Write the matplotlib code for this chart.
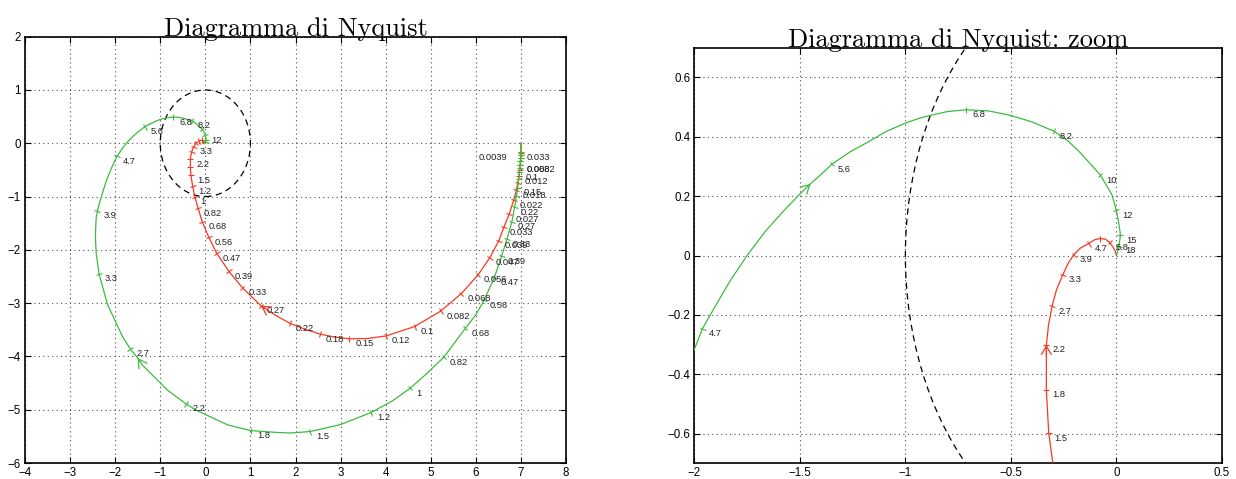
import numpy as np
import matplotlib
matplotlib.use("Agg")
import matplotlib.pyplot as plt
from matplotlib.markers import MarkerStyle
from matplotlib.transforms import Affine2D
from matplotlib.patches import Circle
from matplotlib.ticker import FuncFormatter, FixedLocator

# ---------------- data ----------------
# red curve: frequency ticks and their positions
red_freq = [0.0039, 0.0047, 0.0056, 0.0068, 0.0082, 0.01, 0.012, 0.015, 0.018, 0.022,
            0.027, 0.033, 0.039, 0.047, 0.056, 0.068, 0.082, 0.1, 0.12, 0.15,
            0.18, 0.22, 0.27, 0.33, 0.39, 0.47, 0.56, 0.68, 0.82, 1.0,
            1.2, 1.5, 1.8, 2.2, 2.7, 3.3, 3.9, 4.7, 5.6, 6.8]
red_re = [7.0, 7.0, 6.995, 6.99, 6.985, 6.975, 6.96, 6.93, 6.90, 6.84,
          6.74, 6.62, 6.51, 6.31, 6.05, 5.68, 5.22, 4.64, 4.01, 3.19,
          2.54, 1.88, 1.235, 0.82, 0.52, 0.25, 0.075, -0.07, -0.16, -0.235,
          -0.28, -0.321, -0.332, -0.332, -0.305, -0.254, -0.203, -0.132, -0.078, -0.032]
red_im = [-0.18, -0.22, -0.27, -0.33, -0.40, -0.50, -0.62, -0.75, -0.88, -1.07,
          -1.33, -1.58, -1.83, -2.15, -2.47, -2.82, -3.15, -3.44, -3.615, -3.67,
          -3.58, -3.38, -3.05, -2.71, -2.40, -2.06, -1.76, -1.47, -1.22, -1.0,
          -0.81, -0.598, -0.453, -0.301, -0.171, -0.065, 0.002, 0.040, 0.057, 0.044]
# extra (unlabelled) points of the red curve, keyed by approximate frequency
red_xf = [0.0, 0.135, 0.165, 0.2, 0.245, 2.45, 3.0, 3.6, 4.3, 5.1, 6.2, 8.0, 10.0, 100.0]
red_xr = [7.0, 3.58, 2.86, 2.21, 1.55, -0.322, -0.284, -0.231, -0.171, -0.103, -0.052, -0.016, -0.005, 0.0]
red_xi = [0.0, -3.665, -3.635, -3.49, -3.225, -0.235, -0.115, -0.029, 0.025, 0.053, 0.055, 0.028, 0.013, 0.0]

# green curve
green_freq = [0.033, 0.039, 0.047, 0.056, 0.068, 0.082, 0.1, 0.12, 0.15, 0.18,
              0.22, 0.27, 0.33, 0.39, 0.47, 0.56, 0.68, 0.82, 1.0, 1.2,
              1.5, 1.8, 2.2, 2.7, 3.3, 3.9, 4.7, 5.6, 6.8, 8.2,
              10.0, 12.0, 15.0, 18.0]
green_re = [7.0, 7.0, 6.995, 6.99, 6.985, 6.975, 6.965, 6.95, 6.93, 6.90,
            6.86, 6.80, 6.69, 6.57, 6.41, 6.18, 5.77, 5.29, 4.545, 3.674,
            2.322, 1.013, -0.428, -1.670, -2.357, -2.394, -1.961, -1.347, -0.711, -0.297,
            -0.076, -0.001, 0.019, 0.012]
green_im = [-0.17, -0.22, -0.27, -0.33, -0.40, -0.47, -0.54, -0.67, -0.83, -0.99,
            -1.20, -1.47, -1.80, -2.12, -2.52, -2.95, -3.47, -4.015, -4.597, -5.054,
            -5.41, -5.392, -4.891, -3.853, -2.452, -1.27, -0.246, 0.308, 0.491, 0.419,
            0.271, 0.153, 0.069, 0.033]
green_xf = [0.0, 0.62, 0.9, 1.1, 1.35, 1.6, 1.7, 1.95, 2.1, 2.35, 2.5, 2.6, 2.85, 3.05,
            3.45, 3.6, 3.75, 4.05, 4.2, 4.4, 4.85, 4.95, 5.05, 5.15, 5.25, 5.35, 5.4, 5.5,
            5.7, 5.85, 5.95, 6.05, 6.2, 6.35, 6.55, 7.2, 7.6, 7.9, 8.6, 9.0, 11.0, 13.5,
            21.0, 100.0]
green_xr = [7.0, 6.0, 4.92, 4.15, 3.0, 1.88, 1.574, 0.504, -0.203, -0.842, -1.393, -1.50,
            -1.840, -2.169, -2.422, -2.439, -2.422, -2.334, -2.198, -2.082, -1.90, -1.83,
            -1.75, -1.665, -1.58, -1.50, -1.45, -1.40, -1.26, -1.17, -1.09, -1.0, -0.94,
            -0.882, -0.80, -0.605, -0.502, -0.40, -0.235, -0.179, -0.021, 0.011, 0.006, 0.0]
green_xi = [0.0, -3.22, -4.315, -4.835, -5.279, -5.437, -5.426, -5.288, -5.009, -4.631,
            -4.164, -4.03, -3.624, -3.026, -2.062, -1.732, -1.402, -1.081, -0.706, -0.465,
            -0.17, -0.085, 0.0, 0.08, 0.148, 0.207, 0.241, 0.273, 0.350, 0.385, 0.418,
            0.446, 0.461, 0.472, 0.485, 0.487, 0.472, 0.450, 0.389, 0.352, 0.204, 0.109,
            0.015, 0.0]

# labelled frequencies in each panel
red_labels_main = [0.0039, 0.0082, 0.012, 0.018, 0.022, 0.027, 0.033, 0.039, 0.047, 0.056,
                   0.068, 0.082, 0.1, 0.12, 0.15, 0.18, 0.22, 0.27, 0.33, 0.39, 0.47,
                   0.56, 0.68, 0.82, 1.0, 1.2, 1.5, 2.2, 3.3]
green_labels_main = [0.033, 0.068, 0.1, 0.15, 0.22, 0.27, 0.33, 0.39, 0.47, 0.56, 0.68,
                     0.82, 1.0, 1.2, 1.5, 1.8, 2.2, 2.7, 3.3, 3.9, 4.7, 5.6, 6.8, 8.2, 12.0]
red_labels_zoom = [1.5, 1.8, 2.2, 2.7, 3.3, 3.9, 4.7, 6.8]
green_labels_zoom = [4.7, 5.6, 6.8, 8.2, 10.0, 12.0, 15.0, 18.0]

# arrow positions (frequency of arrow tip) per panel
red_arrow_main, green_arrow_main = 0.27, 2.6
red_arrow_zoom, green_arrow_zoom = 2.2, 5.4

titles = ["Diagramma di Nyquist", "Diagramma di Nyquist: zoom"]

RED = "#f23a22"
GREEN = "#3dbb3d"
LABEL_COLOR = "#222222"


def merge(f, r, i, xf, xr, xi):
    F = np.array(list(f) + list(xf), float)
    R = np.array(list(r) + list(xr), float)
    I = np.array(list(i) + list(xi), float)
    o = np.argsort(F, kind="stable")
    return F[o], R[o], I[o]


red_path = merge(red_freq, red_re, red_im, red_xf, red_xr, red_xi)
green_path = merge(green_freq, green_re, green_im, green_xf, green_xr, green_xi)

fig = plt.figure(figsize=(12.36, 4.79), dpi=100)
ax1 = fig.add_axes([25 / 1236, 16 / 479, 541 / 1236, 426.3 / 479])
ax2 = fig.add_axes([694.3 / 1236, 15.7 / 479, 527.7 / 1236, 415.6 / 479])

fmt = FuncFormatter(lambda v, p: ("%g" % v).replace("-", "\u2212"))


def setup(ax, xlim, ylim, xt, yt, title):
    ax.set_xlim(*xlim)
    ax.set_ylim(*ylim)
    ax.xaxis.set_major_locator(FixedLocator(xt))
    ax.yaxis.set_major_locator(FixedLocator(yt))
    ax.xaxis.set_major_formatter(fmt)
    ax.yaxis.set_major_formatter(fmt)
    ax.tick_params(direction="in", top=True, right=True, length=4, width=0.8,
                   labelsize=8.3, pad=3)
    for lab in ax.get_xticklabels() + ax.get_yticklabels():
        lab.set_fontfamily("Liberation Sans")
    for s in ax.spines.values():
        s.set_linewidth(1.2)
    ax.grid(True, linestyle=(0, (1, 3)), color="0.3", linewidth=0.8)
    ax.set_axisbelow(True)
    ax.set_title(title, fontfamily="cmr10", fontsize=19, pad=0.5)
    ax.add_patch(Circle((0, 0), 1.0, fill=False, edgecolor="black",
                        linestyle=(0, (5, 3.5)), linewidth=0.9, zorder=2))


def draw_curve(ax, path, freqs, color, labels, arrow_f, special=None):
    F, R, I = path
    ax.plot(R, I, color=color, lw=0.9, zorder=3)
    disp = ax.transData.transform(np.column_stack([R, I]))
    for f in freqs:
        k = int(np.argmin(np.abs(F - f)))
        a = disp[max(k - 1, 0)]
        b = disp[min(k + 1, len(F) - 1)]
        ang = np.degrees(np.arctan2(b[1] - a[1], b[0] - a[0]))
        ms = MarkerStyle("|", transform=Affine2D().rotate_deg(ang))
        ax.plot([R[k]], [I[k]], marker=ms, markersize=4.5, mew=0.8,
                color=color, linestyle="none", zorder=3)
    for f in labels:
        k = int(np.argmin(np.abs(F - f)))
        txt = "%g" % f
        if special is not None and f in special:
            off, ha = special[f], "right"
        else:
            off, ha = (6, -5), "left"
        ax.annotate(txt, (R[k], I[k]), xytext=off, textcoords="offset pixels",
                    ha=ha, va="center", fontsize=6.7, color=LABEL_COLOR,
                    fontfamily="Liberation Sans", zorder=4, annotation_clip=True)
    # direction arrow
    k = int(np.argmin(np.abs(F - arrow_f)))
    tip = np.array([R[k], I[k]])
    prev = np.array([R[k - 1], I[k - 1]])
    tail = tip + 0.25 * (prev - tip)
    ax.annotate("", xy=tuple(tip), xytext=tuple(tail),
                arrowprops=dict(arrowstyle="->,head_length=0.6,head_width=0.35",
                                color=color, lw=0.9, shrinkA=0, shrinkB=0),
                zorder=3)


setup(ax1, (-4, 8), (-6, 2), list(range(-4, 9)), list(range(-6, 3)), titles[0])
setup(ax2, (-2, 0.5), (-0.7, 0.7), [-2, -1.5, -1, -0.5, 0, 0.5],
      [-0.6, -0.4, -0.2, 0, 0.2, 0.4, 0.6], titles[1])

draw_curve(ax1, red_path, red_freq, RED, red_labels_main, red_arrow_main,
           special={0.0039: (-14, -5)})
draw_curve(ax1, green_path, green_freq, GREEN, green_labels_main, green_arrow_main)
draw_curve(ax2, red_path, red_freq, RED, red_labels_zoom, red_arrow_zoom)
draw_curve(ax2, green_path, green_freq, GREEN, green_labels_zoom, green_arrow_zoom)

fig.savefig("out.png", dpi=100)
